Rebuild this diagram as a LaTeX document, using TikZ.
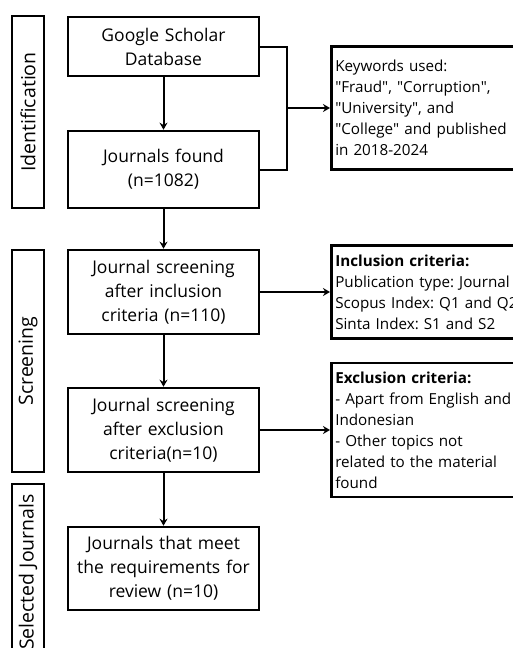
\documentclass[tikz,border=0pt]{standalone}
\usepackage{fontspec}
\setmainfont{Open Sans}
\usetikzlibrary{arrows.meta}
\usetikzlibrary{calc}
\frenchspacing
\newcommand{\qt}[1]{\textquotedbl#1\textquotedbl}

\tikzset{
  stagebox/.style={draw, line width=2.6pt, align=center, text width=188pt,
    font=\fontsize{17.5}{24}\selectfont, inner sep=0pt, minimum width=191pt},
  phasebox/.style={draw, line width=2.6pt, rotate=90, minimum height=32pt,
    inner sep=0pt, font=\fontsize{19.5}{22}\selectfont},
  notebox/.style={draw, line width=2.6pt, align=left, text width=260pt,
    inner sep=4pt, anchor=west, font=\fontsize{15.2}{21}\selectfont},
  flow/.style={line width=2pt, -{Stealth[length=7pt,width=8pt]}},
  link/.style={line width=2pt}
}

\begin{document}
\begin{tikzpicture}[x=1pt,y=-1pt]
\useasboundingbox (0,0) rectangle (513,648);
\clip (0,0) rectangle (513,648);
% phases
\node[phasebox, minimum width=192pt] (ident) at (28,112) {Identification};
\node[phasebox, minimum width=222pt] (screen) at (28,361) {Screening};
\node[phasebox, minimum width=176pt] (select) at (28,572) {Selected Journals};
% main flow
\node[stagebox, minimum height=59pt] (gs) at (163.5,46.5) {Google Scholar\\Database};
\node[stagebox, minimum height=77pt] (found) at (163.5,169.5) {Journals found\\(n=1082)};
\node[stagebox, minimum height=84pt] (incl) at (163.5,292) {Journal screening\\after inclusion\\criteria (n=110)};
\node[stagebox, minimum height=84pt] (excl) at (163.5,430) {Journal screening\\after exclusion\\criteria(n=10)};
\node[stagebox, minimum height=83pt] (final) at (163.5,568.5) {Journals that meet\\the requirements for\\review (n=10)};
% side notes
\node[notebox, minimum height=123pt] (keys) at (330,108) {Keywords used:\\\qt{Fraud}, \qt{Corruption},\\\qt{University}, and\\\qt{College} and published\\in 2018-2024};
\node[notebox, minimum height=93pt] (inclnote) at (330,292) {\textbf{Inclusion criteria:}\\Publication type: Journal\\Scopus Index: Q1 and Q2\\Sinta Index: S1 and S2};
\node[notebox, minimum height=134pt] (exclnote) at (330,430) {\textbf{Exclusion criteria:}\\- Apart from English and\\Indonesian\\- Other topics not\\related to the material\\found};
% connectors
\draw[flow] (gs) -- (found);
\draw[flow] (found) -- (incl);
\draw[flow] (incl) -- (excl);
\draw[flow] (excl) -- (final);
\coordinate (join) at ($(gs.east)!0.5!(found.east)+(27,0)$);
\draw[link] (gs.east) -| (join) |- (found.east);
\draw[flow] (join) -- (keys.west);
\draw[flow] (incl.east) -- (inclnote.west);
\draw[flow] (excl.east) -- (exclnote.west);
\end{tikzpicture}
\end{document}
